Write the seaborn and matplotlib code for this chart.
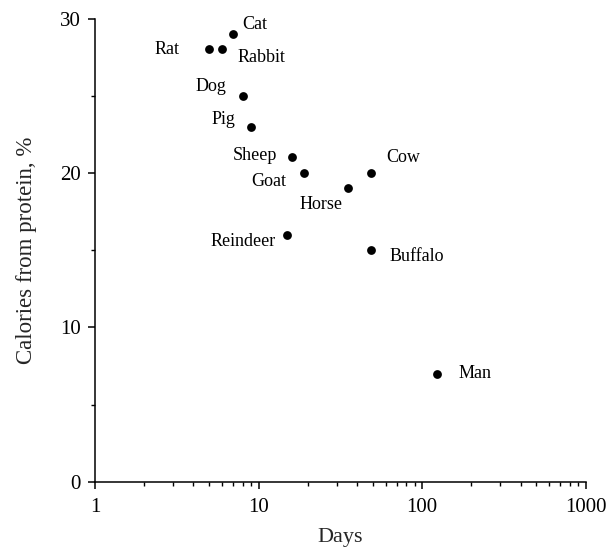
import matplotlib
matplotlib.use("Agg")
import matplotlib.pyplot as plt
import seaborn as sns
import pandas as pd
from matplotlib.ticker import FixedLocator, FixedFormatter, LogLocator, NullFormatter, MultipleLocator

animals = ["Rat", "Rabbit", "Cat", "Dog", "Pig", "Sheep", "Goat", "Reindeer",
           "Horse", "Cow", "Buffalo", "Man"]
days = [5, 6, 7, 8, 9, 16, 19, 15, 35, 49, 49, 123]
protein_pct = [28, 28, 29, 25, 23, 21, 20, 16, 19, 20, 15, 7]
x_ticks = [1, 10, 100, 1000]
x_tick_labels = ["1", "10", "100", "1000"]
y_ticks = [0, 10, 20, 30]

# label placement (offset in pixels, horizontal alignment)
label_offsets = {
    "Rat": (-30, 0, "right"),
    "Rabbit": (15, -8, "left"),
    "Cat": (9, 9, "left"),
    "Dog": (-16, 9, "right"),
    "Pig": (-16, 7, "right"),
    "Sheep": (-15, 2, "right"),
    "Goat": (-18, -9, "right"),
    "Reindeer": (-12, -7, "right"),
    "Horse": (-27, -16, "center"),
    "Cow": (15, 15, "left"),
    "Buffalo": (18, -6, "left"),
    "Man": (22, 0, "left"),
}

df = pd.DataFrame({"animal": animals, "days": days, "protein": protein_pct})

sns.set_style("ticks")
plt.rcParams["font.family"] = ["Liberation Serif", "DejaVu Serif"]
plt.rcParams["mathtext.fontset"] = "stix"

fig = plt.figure(figsize=(6.09, 5.52), dpi=100)
ax = fig.add_axes([95 / 609, 1 - 481.7 / 552, (585.7 - 95) / 609, (481.7 - 18.5) / 552])

sns.scatterplot(data=df, x="days", y="protein", ax=ax, color="black",
                s=40, linewidth=0, zorder=3, clip_on=False)

ax.set_xscale("log")
ax.set_xlim(1, 1000)
ax.set_ylim(0, 30)

ax.xaxis.set_major_locator(FixedLocator(x_ticks))
ax.xaxis.set_major_formatter(FixedFormatter(x_tick_labels))
ax.xaxis.set_minor_locator(LogLocator(base=10, subs=range(2, 10)))
ax.xaxis.set_minor_formatter(NullFormatter())
ax.yaxis.set_major_locator(FixedLocator(y_ticks))
ax.yaxis.set_minor_locator(MultipleLocator(5))

for sp in ["top", "right"]:
    ax.spines[sp].set_visible(False)
for sp in ["left", "bottom"]:
    ax.spines[sp].set_linewidth(1.1)
    ax.spines[sp].set_color("black")

ax.tick_params(axis="both", which="major", direction="out", length=5, width=1.1,
               labelsize=15, colors="black", pad=5)
ax.tick_params(axis="x", which="major", pad=7)
ax.tick_params(axis="both", which="minor", direction="out", length=3, width=1.0,
               colors="black")

ax.set_xlabel("Days", fontsize=16, labelpad=8)
ax.set_ylabel("Calories from protein, %", fontsize=16.5, labelpad=17)

for a, d, p in zip(animals, days, protein_pct):
    dx, dy, ha = label_offsets[a]
    ax.annotate(a, (d, p), xytext=(dx, dy), textcoords="offset pixels",
                ha=ha, va="center", fontsize=13, color="black")

fig.savefig("out.png", dpi=100)
